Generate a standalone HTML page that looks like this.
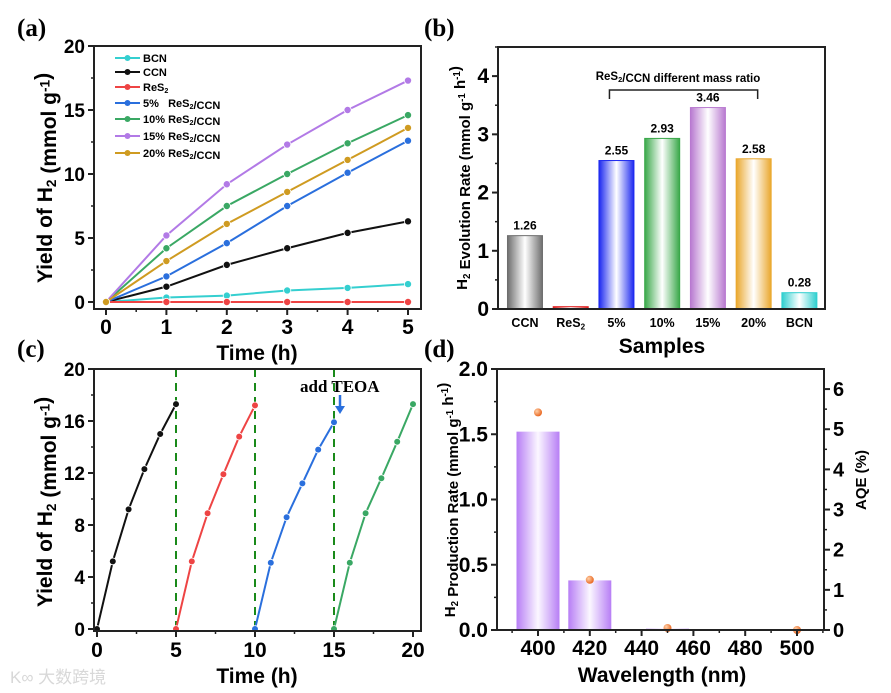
<!DOCTYPE html>
<html><head><meta charset="utf-8"><style>
html,body{margin:0;padding:0;background:#fff;}
svg{display:block;font-family:"Liberation Sans",Arial,sans-serif;}
.tk{font-size:19px;font-weight:bold;fill:#000;}
.ttl{font-weight:bold;fill:#000;}
.pl{font-family:"Liberation Serif",serif;font-size:25px;font-weight:bold;}
</style></head><body>
<svg id="fig" width="891" height="693" viewBox="0 0 891 693" xmlns="http://www.w3.org/2000/svg">
<defs></defs>
<g id="root"></g>
</svg>
<script>
// ---------- Panel (a) data ----------
const aTimes=[0,1,2,3,4,5];
const aNames=["BCN","CCN","ReS2","5%   ReS2/CCN","10% ReS2/CCN","15% ReS2/CCN","20% ReS2/CCN"];
const aBCN=[0,0.35,0.5,0.9,1.1,1.4];
const aCCN=[0,1.2,2.9,4.2,5.4,6.3];
const aReS2=[0,0,0,0,0,0];
const a5=[0,2.0,4.6,7.5,10.1,12.6];
const a10=[0,4.2,7.5,10.0,12.4,14.6];
const a15=[0,5.2,9.2,12.3,15.0,17.3];
const a20=[0,3.2,6.1,8.6,11.1,13.6];
const aYTicks=[0,5,10,15,20];
const aXTicks=[0,1,2,3,4,5];
// ---------- Panel (b) data ----------
const bCats=["CCN","ReS2","5%","10%","15%","20%","BCN"];
const bVals=[1.26,0.04,2.55,2.93,3.46,2.58,0.28];
const bLabels=["1.26","","2.55","2.93","3.46","2.58","0.28"];
const bYTicks=[0,1,2,3,4];
// ---------- Panel (c) data ----------
const cTimes=[0,1,2,3,4,5];
const cCycle1=[0,5.2,9.2,12.3,15.0,17.3];
const cCycle2=[0,5.2,8.9,11.9,14.8,17.2];
const cCycle3=[0,5.1,8.6,11.2,13.8,15.9];
const cCycle4=[0,5.1,8.9,11.6,14.4,17.3];
const cYTicks=[0,4,8,12,16,20];
const cXTicks=[0,5,10,15,20];
const cDashes=[5,10,15];
// ---------- Panel (d) data ----------
const dWaves=[400,420,450,500];
const dRate=[1.52,0.38,0.01,0];
const dAQE=[5.42,1.25,0.05,0];
const dYTicks=[0,0.5,1.0,1.5,2.0];
const dYLabels=["0.0","0.5","1.0","1.5","2.0"];
const dRTicks=[0,1,2,3,4,5,6];
const dXTicks=[400,420,440,460,480,500];

const NS="http://www.w3.org/2000/svg";
const root=document.getElementById('root');
const defs=document.querySelector('defs');
function el(tag,attrs,parent,text){
  const e=document.createElementNS(NS,tag);
  for(const k in attrs)e.setAttribute(k,attrs[k]);
  if(text!==undefined)e.textContent=text;
  (parent||root).appendChild(e);return e;
}
function lin(d0,d1,r0,r1){return v=>r0+(v-d0)*(r1-r0)/(d1-d0);}
function frame(g,x0,y0,x1,y1){
  const r=el('rect',{x:x0,y:y0,width:x1-x0,height:y1-y0,fill:'none',stroke:'#222','stroke-width':2},g);
  
  
}
function sub(t,parent,x,y,cls,anchor,transform,fs){
  const attrs={x:x,y:y,'text-anchor':anchor||'start'};
  if(cls)attrs['class']=cls;
  if(transform)attrs.transform=transform;
  if(fs)attrs.style='font-size:'+fs+'px';
  const t0=el('text',attrs,parent);
  const parts=t.split(/(ReS2|H2)/);
  parts.forEach(p=>{
    if(p==='ReS2'){el('tspan',{},t0,'ReS');el('tspan',{'font-size':'0.65em',dy:'0.3em'},t0,'2');el('tspan',{dy:'-0.2em'},t0,'');}
    else if(p==='H2'){el('tspan',{},t0,'H');el('tspan',{'font-size':'0.65em',dy:'0.3em'},t0,'2');el('tspan',{dy:'-0.2em'},t0,'');}
    else if(p)el('tspan',{},t0,p);
  });
  return t0;
}
function sup(t0,s){el('tspan',{'font-size':'0.65em',dy:'-0.5em'},t0,s);el('tspan',{dy:'0.35em'},t0,'');}
function panelLabel(txt,x,y){
  const t=el('text',{x:x,y:y,class:'pl'},root,txt);
  
  
}
function yTicks(g,ticks,sy,xL,labels,minorStep,ymin,ymax,fs){
  ticks.forEach((v,i)=>{
    const y=sy(v);
    el('line',{x1:xL-6,x2:xL,y1:y,y2:y,stroke:'#222','stroke-width':2},g);
    const a={x:xL-9,y:y+7,class:'tk','text-anchor':'end'};
    if(fs)a.style='font-size:'+fs+'px';
    const t=el('text',a,g,labels?labels[i]:v);
    
    
  });
  if(minorStep){for(let v=ymin;v<=ymax+1e-9;v+=minorStep){const y=sy(v);el('line',{x1:xL-3,x2:xL,y1:y,y2:y,stroke:'#222','stroke-width':1.5},g);}}
}
function xTicks(g,ticks,sx,yB,labels,ty){
  ticks.forEach((v,i)=>{
    const x=sx(v);
    el('line',{x1:x,x2:x,y1:yB,y2:yB+6,stroke:'#222','stroke-width':2},g);
    const t=el('text',{x:x,y:ty,class:'tk','text-anchor':'middle',style:'font-size:21px'},g,labels?labels[i]:v);
    
    
  });
}
function series(g,xs,ys,sx,sy,color,name,r){
  const pts=xs.map((x,i)=>sx(x)+','+sy(ys[i])).join(' ');
  const p=el('polyline',{points:pts,fill:'none',stroke:color,'stroke-width':2},g);
  
  
  xs.forEach((x,i)=>{
    const c=el('circle',{cx:sx(x),cy:sy(ys[i]),r:r||3.6,fill:color,stroke:'#fff','stroke-width':0.8},g);
    
    
  });
}

// ================= Panel (a) =================
{
  const g=el('g',{},root);
  const X0=94,X1=421,Y0=46,Y1=309;
  const sx=lin(0,5,106,408), sy=lin(0,20,302,46);
  const series_=[[aBCN,'#35cfd0','bcn'],[aCCN,'#111','ccn'],[aReS2,'#ee4444','res2'],[a5,'#2a6fdd','res2-5'],[a10,'#3aa864','res2-10'],[a15,'#b27ae6','res2-15'],[a20,'#cf9b21','res2-20']];
  series_.forEach(s=>series(g,aTimes,s[0],sx,sy,s[1],s[2]));
  frame(g,X0,Y0,X1,Y1);
  yTicks(g,aYTicks,sy,X0,null,2.5,0,20);
  xTicks(g,aXTicks,sx,Y1,null,334);
  for(let v=0.5;v<5;v+=1){el('line',{x1:sx(v),x2:sx(v),y1:Y1,y2:Y1+3,stroke:'#222','stroke-width':1.5},g);}
  const yt=sub('Yield of H2 (mmol g',g,0,0,'ttl','middle','translate(52,178) rotate(-90)',21);
  sup(yt,'-1');el('tspan',{},yt,')');
  
  const xt=el('text',{x:257,y:360,class:'ttl','text-anchor':'middle',style:'font-size:21px'},g,'Time (h)');
  
  const ly=[58,72,87,103,119,136,153];
  series_.forEach((s,i)=>{
    const le=el('g',{},g);
    el('line',{x1:115,x2:140,y1:ly[i],y2:ly[i],stroke:s[1],'stroke-width':2},le);
    el('circle',{cx:127.5,cy:ly[i],r:3,fill:s[1]},le);
    const t=sub(aNames[i],le,143,ly[i]+4,'','start',null,11);
    t.setAttribute('font-weight','bold');t.setAttribute('style','font-size:11px;white-space:pre');
  });
  panelLabel('(a)',17,36);
}

// ================= Panel (b) =================
{
  const g=el('g',{},root);
  const X0=498,X1=825,Y0=47,Y1=309;
  const sx=lin(0.41,7.56,498,825), sy=lin(0,4.5,309,47);
  const colors=['#6e6e6e','#e02020','#1c28f0','#3aa84a','#b879d0','#eaa82e','#2fcfcf'];
  const bw=35;
  bCats.forEach((c,i)=>{
    const gid='bg'+i;
    const lg=el('linearGradient',{id:gid,x1:0,x2:1,y1:0,y2:0},defs);
    el('stop',{offset:'0','stop-color':colors[i]},lg);
    el('stop',{offset:'0.5','stop-color':'#fff'},lg);
    el('stop',{offset:'1','stop-color':colors[i]},lg);
    const x=sx(i+1), y=sy(bVals[i]);
    const r=el('rect',{x:x-bw/2,y:y,width:bw,height:sy(0)-y,fill:'url(#'+gid+')',stroke:colors[i],'stroke-width':1},g);
    
    
    if(bLabels[i]){
      const t=el('text',{x:x,y:y-6,'text-anchor':'middle',style:'font-size:12px;font-weight:bold'},g,bLabels[i]);
      
    }
    const lt=sub(c,g,x,327,'','middle',null,12.5);
    lt.setAttribute('font-weight','bold');
    
  });
  frame(g,X0,Y0,X1,Y1);
  yTicks(g,bYTicks,sy,X0,null,0.5,0,4.5,21);
  const br=el('polyline',{points:`${sx(3)-7},99 ${sx(3)-7},90 ${sx(6)+4},90 ${sx(6)+4},99`,fill:'none',stroke:'#222','stroke-width':1.5},g);
  
  const bt=sub('ReS2/CCN different mass ratio',g,678,80,'','middle',null,11.5);
  bt.setAttribute('font-weight','bold');
  
  const yt=sub('H2 Evolution Rate (mmol g',g,0,0,'ttl','middle','translate(467,178) rotate(-90)',15);
  sup(yt,'-1');el('tspan',{},yt,' h');sup(yt,'-1');el('tspan',{},yt,')');
  
  const xt=el('text',{x:662,y:353,class:'ttl','text-anchor':'middle',style:'font-size:21px'},g,'Samples');
  
  panelLabel('(b)',424,36);
}

// ================= Panel (c) =================
{
  const g=el('g',{},root);
  const X0=94,X1=421,Y0=369,Y1=631;
  const sx=lin(0,20,97,413), sy=lin(0,20,629,369);
  cDashes.forEach(v=>{
    const d=el('line',{x1:sx(v),x2:sx(v),y1:Y0,y2:Y1,stroke:'#1a8a1a','stroke-width':2,'stroke-dasharray':'8,6'},g);
    
  });
  const cycles=[[cCycle1,'#111',0],[cCycle2,'#ee4444',5],[cCycle3,'#2a6fdd',10],[cCycle4,'#3aa864',15]];
  cycles.forEach((c,i)=>series(g,cTimes.map(t=>t+c[2]),c[0],sx,sy,c[1],'cycle-'+(i+1),3.4));
  frame(g,X0,Y0,X1,Y1);
  yTicks(g,cYTicks,sy,X0,null,2,0,20);
  xTicks(g,cXTicks,sx,Y1,null,657);
  for(let v=2.5;v<20;v+=5){el('line',{x1:sx(v),x2:sx(v),y1:Y1,y2:Y1+3,stroke:'#222','stroke-width':1.5},g);}
  const yt=sub('Yield of H2 (mmol g',g,0,0,'ttl','middle','translate(52,502) rotate(-90)',21);
  sup(yt,'-1');el('tspan',{},yt,')');
  
  const xt=el('text',{x:257,y:683,class:'ttl','text-anchor':'middle',style:'font-size:21px'},g,'Time (h)');
  
  const an=el('text',{x:300,y:392,style:'font-family:"Liberation Serif",serif;font-size:17px;font-weight:bold'},g,'add TEOA');
  
  const ar=el('g',{},g);
  el('line',{x1:340,x2:340,y1:395,y2:408,stroke:'#2a6fdd','stroke-width':2.5},ar);
  el('polygon',{points:'335,406 345,406 340,414',fill:'#2a6fdd'},ar);
  panelLabel('(c)',17,357);
  const wm=el('text',{x:10,y:683,style:'font-size:17px;fill:#d8d8d8;font-family:"Liberation Sans","Noto Sans CJK SC",sans-serif'},root,'K∞ 大数跨境');
  
}

// ================= Panel (d) =================
{
  const g=el('g',{},root);
  const X0=497,X1=824,Y0=369,Y1=630;
  const sx=lin(400,500,538,797), sy=lin(0,2,630,369), sr=lin(0,6.5,630,369);
  const lg=el('linearGradient',{id:'dg',x1:0,x2:1,y1:0,y2:0},defs);
  el('stop',{offset:'0','stop-color':'#b77ef5'},lg);
  el('stop',{offset:'0.5','stop-color':'#fbf7ff'},lg);
  el('stop',{offset:'1','stop-color':'#b77ef5'},lg);
  const bw=43;
  dWaves.forEach((w,i)=>{
    const y=sy(dRate[i]);
    const h=Math.max(sy(0)-y,0);
    if(h>0){
      const r=el('rect',{x:sx(w)-bw/2,y:y,width:bw,height:h,fill:'url(#dg)'},g);
      
    }
  });
  const rg=el('radialGradient',{id:'og',cx:0.35,cy:0.35,r:0.7},defs);
  el('stop',{offset:'0','stop-color':'#ffd0a8'},rg);
  el('stop',{offset:'1','stop-color':'#e8621a'},rg);
  dWaves.forEach((w,i)=>{
    const c=el('circle',{cx:sx(w),cy:sr(dAQE[i]),r:4,fill:'url(#og)'},g);
    
  });
  frame(g,X0,Y0,X1,Y1);
  yTicks(g,dYTicks,sy,X0,dYLabels,0.25,0,2,21);
  xTicks(g,dXTicks,sx,Y1,null,655);
  for(let v=390;v<=510;v+=10){el('line',{x1:sx(v),x2:sx(v),y1:Y1,y2:Y1+3,stroke:'#222','stroke-width':1.5},g);}
  dRTicks.forEach(v=>{
    const y=sr(v);
    el('line',{x1:X1,x2:X1+6,y1:y,y2:y,stroke:'#222','stroke-width':2},g);
    const t=el('text',{x:X1+9,y:y+7,class:'tk',style:'font-size:20px'},g,v);
    
  });
  for(let v=0.5;v<6.5;v+=1){const y=sr(v);el('line',{x1:X1,x2:X1+3,y1:y,y2:y,stroke:'#222','stroke-width':1.5},g);}
  const yt=sub('H2 Production Rate (mmol g',g,0,0,'ttl','middle','translate(455,500) rotate(-90)',15);
  sup(yt,'-1');el('tspan',{},yt,' h');sup(yt,'-1');el('tspan',{},yt,')');
  
  const rt=el('text',{x:0,y:0,class:'ttl','text-anchor':'middle',style:'font-size:15px',transform:'translate(866,480) rotate(-90)'},g,'AQE  (%)');
  
  const xt=el('text',{x:662,y:682,class:'ttl','text-anchor':'middle',style:'font-size:21px'},g,'Wavelength (nm)');
  
  panelLabel('(d)',424,357);
}
</script>
</body></html>
